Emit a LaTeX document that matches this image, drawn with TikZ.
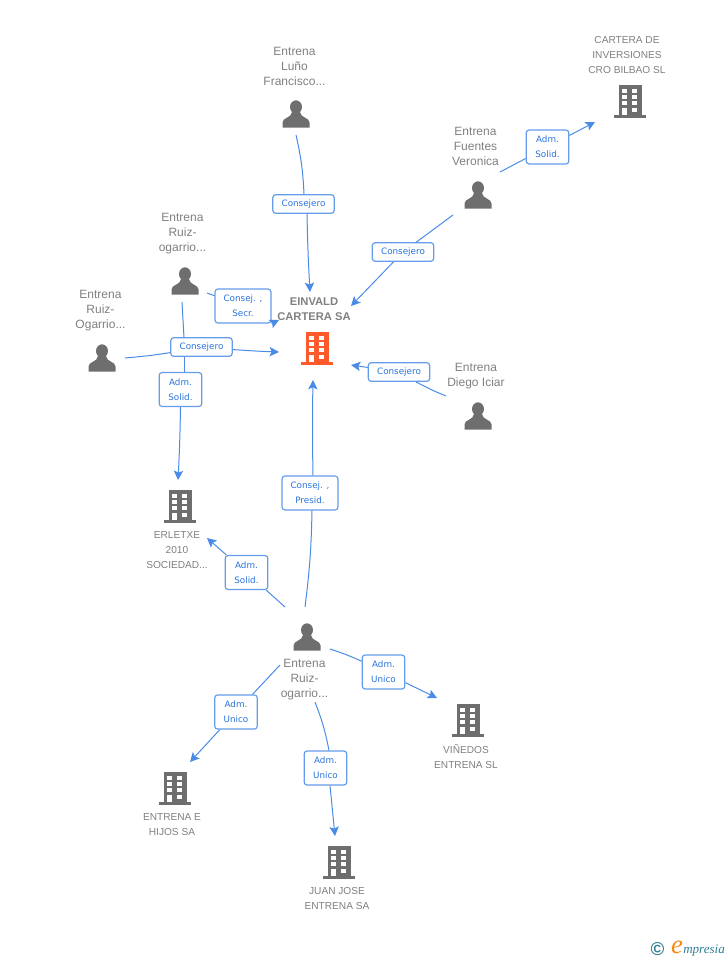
\documentclass[tikz,border=0pt]{standalone}
\usepackage{fontspec}
\setmainfont{Liberation Sans}
\newfontfamily\labelfont{DejaVu Sans}
\newfontfamily\logofont{Liberation Serif}
\definecolor{icongray}{HTML}{6E6E6E}
\definecolor{textgray}{HTML}{808080}
\definecolor{linkblue}{HTML}{4A8BE8}
\definecolor{rolblue}{HTML}{2A74DC}
\definecolor{mainorange}{HTML}{FF5A2B}
\definecolor{logoteal}{HTML}{2F7F96}
\definecolor{logoorange}{HTML}{F58A12}
\usetikzlibrary{arrows.meta}
\tikzset{
    link/.style={linkblue,line width=0.75pt},
    arrowlink/.style={link,-{Stealth[length=7pt,width=7pt,inset=1.5pt]}},
    rol/.style={draw=linkblue!85,line width=0.9pt,rounded corners=2.2pt,fill=white,text=rolblue,
        font=\labelfont\fontsize{6.6}{11.2}\selectfont,align=center,inner sep=0pt},
    rolone/.style={rol,minimum width=46pt,minimum height=14pt},
    roltwo/.style={rol,minimum width=32pt,minimum height=25.5pt},
    rolwide/.style={rol,minimum width=42pt,minimum height=25.5pt},
    personname/.style={text=textgray,align=center,inner sep=0pt,font=\fontsize{9}{11.25}\selectfont},
    company/.style={text=textgray,align=center,inner sep=0pt,font=\fontsize{7.6}{11.25}\selectfont},
    pics/building/.style={code={
        \fill[#1] (-11.5,-16.5) rectangle (11.5,13.5);
        \fill[#1] (-16,13.5) rectangle (16,16.5);
        \foreach \col in {-7.8,2.2} \foreach \row in {-12.5,-6.5,0}
            \fill[white] (\col,\row) rectangle ++(5,4.2);
        \fill[white] (2.2,6.5) rectangle ++(5,4.2);
        \fill[white] (-7.8,6.5) rectangle (-3.4,13.5);
    }},
    pics/person/.style={code={
        \fill[icongray] (0,-7) ellipse (6 and 6.7);
        \fill[icongray] (-13.5,13.5) -- (-13.5,8.5) .. controls (-13.5,3.5) and (-4.5,4) .. (-4,-2)
            -- (4,-2) .. controls (4.5,4) and (13.5,3.5) .. (13.5,8.5) -- (13.5,13.5) -- cycle;
    }}
}
\begin{document}
\begin{tikzpicture}[x=0.75pt,y=-0.75pt]
    \useasboundingbox (0,0) rectangle (728,960);
    % Draw people
    \pic at (296,114) {person};
    \pic at (478,195) {person};
    \pic at (185,281) {person};
    \pic at (102,358) {person};
    \pic at (478,416) {person};
    \pic at (307,637) {person};
    \node[personname] (luno) at (294.5,66) {Entrena\\Luño\\Francisco...};
    \node[personname] (fuentes) at (475.5,146.5) {Entrena\\Fuentes\\Veronica};
    \node[personname] (ogarrioa) at (182.5,234) {Entrena\\Ruiz-\\ogarrio...};
    \node[personname] (ogarriob) at (100.5,311) {Entrena\\Ruiz-\\Ogarrio...};
    \node[personname] (diego) at (476,376) {Entrena\\Diego Iciar};
    \node[personname] (ogarrioc) at (304.5,680) {Entrena\\Ruiz-\\ogarrio...};
    % Draw companies
    \pic at (317,348) {building=mainorange};
    \pic at (630,101) {building=icongray};
    \pic at (180,506) {building=icongray};
    \pic at (468,720) {building=icongray};
    \pic at (175,788) {building=icongray};
    \pic at (339,862) {building=icongray};
    \node[text=textgray,align=center,inner sep=0pt,font=\bfseries\fontsize{8.4}{11.25}\selectfont] (einvald) at (314,309) {EINVALD\\CARTERA SA};
    \node[company] (cartera) at (627,55) {CARTERA DE\\INVERSIONES\\CRO BILBAO SL};
    \node[company] (erletxe) at (177,550) {ERLETXE\\2010\\SOCIEDAD...};
    \node[company] (vinedos) at (466,757) {VIÑEDOS\\ENTRENA SL};
    \node[company] (hijos) at (172,825) {ENTRENA E\\HIJOS SA};
    \node[company] (juan) at (337,898) {JUAN JOSE\\ENTRENA SA};
    % Draw role boxes
    \node[rolone] (rluno) at (303.5,204) {Consejero};
    \node[roltwo] (rcartera) at (547.5,147) {Adm.\\Solid.};
    \node[rolone] (rfuentes) at (403,252) {Consejero};
    \node[rolwide] (rsecr) at (243,306) {Consej. ,\\Secr.};
    \node[rolone] (rogarrio) at (201.5,347) {Consejero};
    \node[roltwo] (rerlb) at (180.5,389.5) {Adm.\\Solid.};
    \node[rolone] (rdiego) at (399,372) {Consejero};
    \node[rolwide] (rpresid) at (310,493) {Consej. ,\\Presid.};
    \node[roltwo] (rerlc) at (246.5,572.5) {Adm.\\Solid.};
    \node[roltwo] (rvin) at (383.5,672) {Adm.\\Unico};
    \node[roltwo] (rhijos) at (236,712) {Adm.\\Unico};
    \node[roltwo] (rjuan) at (325.5,768) {Adm.\\Unico};
    % Free ends of the connectors
    \coordinate (sluno) at (296,135);
    \coordinate (eluno) at (310,292);
    \coordinate (sfuea) at (453,215);
    \coordinate (efuea) at (351,306);
    \coordinate (sfueb) at (500,172);
    \coordinate (efueb) at (595,122);
    \coordinate (ssecr) at (207,293);
    \coordinate (esecr) at (279,320);
    \coordinate (serlb) at (182,302);
    \coordinate (nerlb) at (184,338);
    \coordinate (eerlb) at (178,480);
    \coordinate (sogar) at (125,358);
    \coordinate (eogar) at (279,352);
    \coordinate (sdieg) at (446,396);
    \coordinate (edieg) at (351,365);
    \coordinate (spres) at (305,607);
    \coordinate (epres) at (313,380);
    \coordinate (serlc) at (285,607);
    \coordinate (eerlc) at (207,538);
    \coordinate (svin) at (330,649);
    \coordinate (evin) at (437,698);
    \coordinate (shij) at (280,665);
    \coordinate (ehij) at (190,762);
    \coordinate (sjua) at (315,702);
    \coordinate (ejua) at (335,836);
    % Draw connectors
    \draw[link] (sluno) to[bend left=5] (rluno.north -| 304,0);
    \draw[arrowlink] (rluno.south -| 307,0) to[bend right=1] (eluno);
    \draw[link] (sfuea) -- (rfuentes);
    \draw[arrowlink] (rfuentes) -- (efuea);
    \draw[link] (sfueb) -- (rcartera);
    \draw[arrowlink] (rcartera) -- (efueb);
    \draw[link] (ssecr) -- (rsecr);
    \draw[arrowlink] (rsecr.south east) -- (esecr);
    \draw[link] (serlb) -- (nerlb);
    \draw[link] (rogarrio.south -| nerlb) -- (rerlb.north -| nerlb);
    \draw[arrowlink] (rerlb.south) to[bend left=1] (eerlb);
    \draw[link] (sogar) to[bend right=2] (rogarrio);
    \draw[arrowlink] (rogarrio) to[bend right=1] (eogar);
    \draw[link] (sdieg) to[bend left=3] (rdiego);
    \draw[arrowlink] (rdiego) -- (edieg);
    \draw[link] (spres) to[bend right=3] (rpresid.south -| 312,0);
    \draw[arrowlink] (rpresid.north -| 313,0) to[bend left=1] (epres);
    \draw[link] (serlc) -- (rerlc);
    \draw[arrowlink] (rerlc) -- (eerlc);
    \draw[link] (svin) to[bend left=3] (rvin);
    \draw[arrowlink] (rvin) -- (evin);
    \draw[link] (shij) -- (rhijos);
    \draw[arrowlink] (rhijos) -- (ehij);
    \draw[link] (sjua) to[bend left=5] (rjuan.north -| 329,0);
    \draw[arrowlink] (rjuan.south -| 330,0) -- (ejua);
    % Draw logo
    \node[text=logoteal,inner sep=0pt,font=\bfseries\fontsize{14}{14}\selectfont] (copyr) at (657.5,949) {©};
    \node[text=logoorange,inner sep=0pt,font=\logofont\itshape\fontsize{20}{20}\selectfont] (logoe) at (677,947) {e};
    \node[text=logoteal,inner sep=0pt,anchor=base west,font=\logofont\itshape\fontsize{9.8}{10}\selectfont] (logot) at (683,953) {mpresia};
\end{tikzpicture}
\end{document}
